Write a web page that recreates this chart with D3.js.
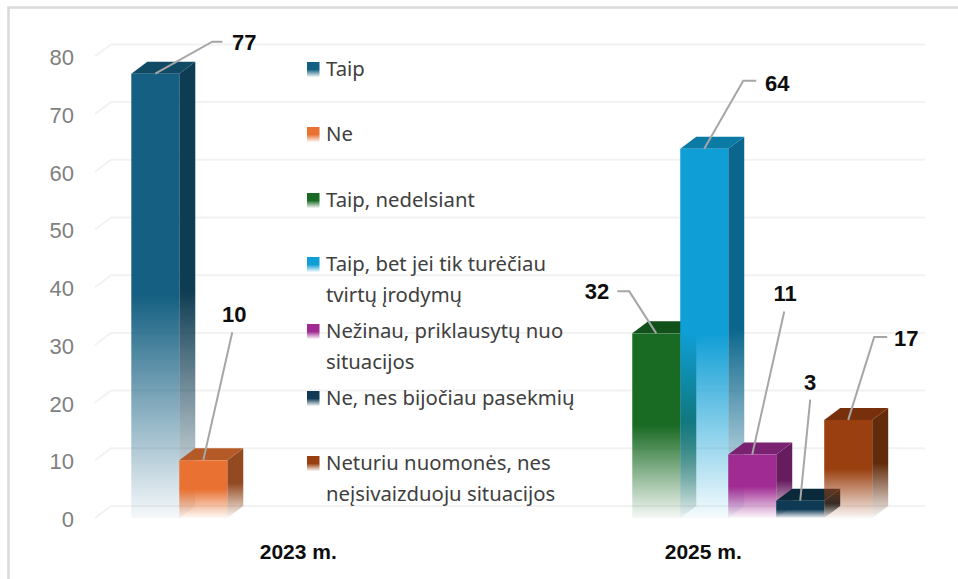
<!DOCTYPE html>
<html><head><meta charset="utf-8">
<script src="https://cdn.jsdelivr.net/npm/d3@7"></script>
<style>html,body{margin:0;padding:0;background:#fff;overflow:hidden}svg{display:block}</style>
</head><body><div id="chart"></div>
<script>
const years = ["2023 m.", "2025 m."];
const yTicks = [0, 10, 20, 30, 40, 50, 60, 70, 80];
const seriesNames = ["Taip", "Ne", "Taip, nedelsiant", "Taip, bet jei tik turėčiau tvirtų įrodymų", "Nežinau, priklausytų nuo situacijos", "Ne, nes bijočiau pasekmių", "Neturiu nuomonės, nes neįsivaizduoju situacijos"];
const seriesYears = ["2023 m.", "2023 m.", "2025 m.", "2025 m.", "2025 m.", "2025 m.", "2025 m."];
const seriesValues = [77, 10, 32, 64, 11, 3, 17];
const legendLines = [["Taip"], ["Ne"], ["Taip, nedelsiant"], ["Taip, bet jei tik turėčiau", "tvirtų įrodymų"], ["Nežinau, priklausytų nuo", "situacijos"], ["Ne, nes bijočiau pasekmių"], ["Neturiu nuomonės, nes", "neįsivaizduoju situacijos"]];
const frontColors = ["#156082", "#E97132", "#196B24", "#0F9ED5", "#A02B93", "#0E3A55", "#9A4010"];
const topColors = ["#104A64", "#B45A26", "#13511B", "#0B7BA6", "#7B2171", "#0A2A3B", "#77300B"];
const sideColors = ["#0E3C52", "#934A20", "#114A18", "#0A668C", "#671C5F", "#08222F", "#622B0A"];

const W = 958, H = 579, depthX = 16, depthY = 12;
const svg = d3.select("#chart").append("svg").attr("width", W).attr("height", H);
const font = "'Noto Sans', sans-serif";
const numFont = "'Liberation Sans', Arial, sans-serif";

const x0 = d3.scaleBand().domain(years).range([96.75, 906.75]).paddingInner(0.1706).paddingOuter(0.0853);
const x1 = d3.scaleBand().domain(seriesNames).range([0, x0.bandwidth()]);
const y = d3.scaleLinear().domain([0, 80]).range([518, 56.4]);
const barX = i => x0(seriesYears[i]) + x1(seriesNames[i]);
const bw = x1.bandwidth();

// gradients
const defs = svg.append("defs");
function grad(id, color, solid, endA) {
  const g = defs.append("linearGradient").attr("id", id).attr("x1", 0).attr("y1", 0).attr("x2", 0).attr("y2", 1);
  g.append("stop").attr("offset", 0).attr("stop-color", color);
  g.append("stop").attr("offset", solid).attr("stop-color", color);
  g.append("stop").attr("offset", 1).attr("stop-color", color).attr("stop-opacity", endA);
}
seriesNames.forEach((n, i) => {
  grad("f" + i, frontColors[i], 0.5, 0.04);
  grad("s" + i, sideColors[i], 0.5, 0.04);
});

// frame
svg.append("path").attr("d", `M8.5,${H}V7.5H${W}`).attr("fill", "none").attr("stroke", "#d9d9d9").attr("stroke-width", 2.5);

// gridlines (walls)
const gridPath = d => {
  const yy = y(d);
  return `M95,${yy}L${95 + depthX},${yy - depthY}H925`;
};
svg.append("g").selectAll("path").data(yTicks).join("path")
  .attr("d", gridPath).attr("fill", "none").attr("stroke", "#f2f2f2").attr("stroke-width", 2);

// y tick labels
svg.append("g").selectAll("text").data(yTicks).join("text")
  .attr("x", 74).attr("y", d => y(d) + 1).attr("dy", "0.36em").attr("text-anchor", "end")
  .attr("font-family", numFont).attr("font-size", 22).attr("fill", "#7f7f7f").text(d => d);

// bars
const bars = svg.append("g").selectAll("g").data(seriesValues).join("g");
bars.append("path").attr("fill", (d, i) => `url(#s${i})`).attr("d", (d, i) => {
  const r = barX(i) + bw;
  return `M${r},${y(d)}L${r + depthX},${y(d) - depthY}V${y(0) - depthY}L${r},${y(0)}Z`;
});
bars.append("path").attr("fill", (d, i) => topColors[i]).attr("d", (d, i) => {
  const l = barX(i);
  return `M${l},${y(d)}L${l + depthX},${y(d) - depthY}H${l + bw + depthX}L${l + bw},${y(d)}Z`;
});
bars.append("rect").attr("x", (d, i) => barX(i)).attr("y", d => y(d)).attr("width", bw)
  .attr("height", d => y(0) - y(d)).attr("fill", (d, i) => `url(#f${i})`);

// data-label leaders and labels, placed relative to the bar's top centre
const leaderOffsets = [
  [[57, -32], [67, -32]],
  [[29, -128]],
  [[-27, -42], [-39, -42]],
  [[39, -68], [52, -68]],
  [[32, -143]],
  [[10, -101]],
  [[26, -83], [39, -83]]
];
const labelOffsets = [[89, -32, "middle"], [31, -146, "middle"], [-47, -42, "end"], [73, -66, "middle"], [33, -161, "middle"], [10, -119, "middle"], [58, -82, "middle"]];
const line = d3.line();
seriesValues.forEach((v, i) => {
  const cx = barX(i) + bw / 2, cy = y(v);
  svg.append("path").attr("fill", "none").attr("stroke", "#a6a6a6").attr("stroke-width", 2)
    .attr("d", line([[cx, cy]].concat(leaderOffsets[i].map(o => [cx + o[0], cy + o[1]]))));
  svg.append("text").attr("x", cx + labelOffsets[i][0]).attr("y", cy + labelOffsets[i][1]).attr("dy", "0.36em")
    .attr("text-anchor", labelOffsets[i][2]).attr("font-family", numFont).attr("font-weight", 700)
    .attr("font-size", 22).attr("fill", "#0d0d0d").text(v);
});

// category labels
svg.append("g").selectAll("text").data(years).join("text")
  .attr("x", d => x0(d) + x0.bandwidth() / 2 - 1).attr("y", 551).attr("dy", "0.36em").attr("text-anchor", "middle")
  .attr("font-family", numFont).attr("font-weight", 700).attr("font-size", 21).attr("fill", "#0d0d0d").text(d => d);

// legend
const legendY = [69, 134, 200, 264, 331, 398, 463];
const legendLH = 31;
const lg = svg.append("g").selectAll("g").data(legendLines).join("g");
lg.append("rect").attr("x", 307).attr("y", (d, i) => legendY[i] - 7).attr("width", 12.5).attr("height", 15)
  .attr("fill", (d, i) => `url(#f${i})`);
lg.each(function (lines, i) {
  lines.forEach((t, k) => {
    d3.select(this).append("text").attr("x", 326).attr("y", legendY[i] + k * legendLH).attr("dy", "0.36em")
      .attr("font-family", font).attr("font-size", 20.3).attr("fill", "#404040").text(t);
  });
});
</script></body></html>
